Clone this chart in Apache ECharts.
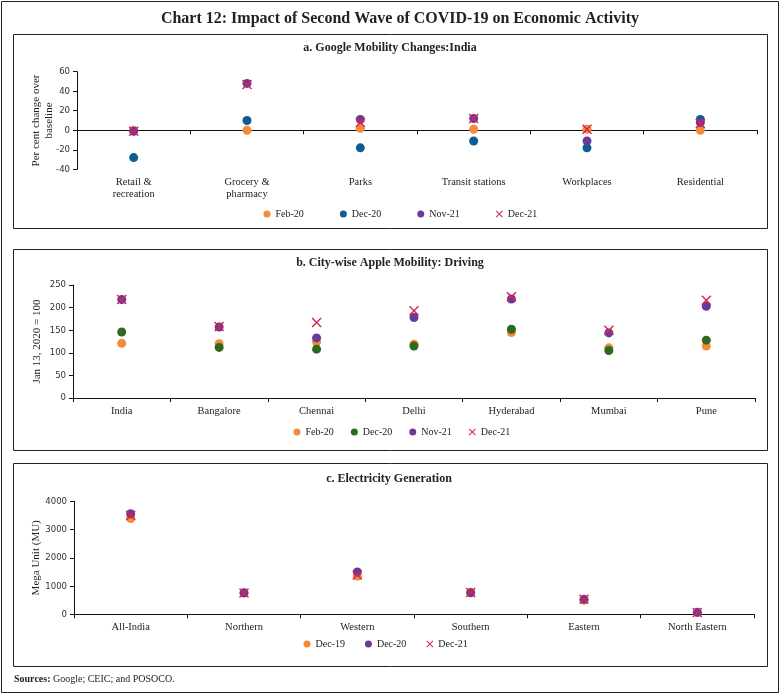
<!DOCTYPE html>
<html>
<head>
<meta charset="utf-8">
<script src="https://cdn.jsdelivr.net/npm/echarts@6/dist/echarts.min.js"></script>
<style>
html,body{margin:0;padding:0;background:#fff;}
#c{width:782px;height:695px;}
</style>
</head>
<body>
<div id="c"></div>
<script>
// Panel a: Google mobility
const catsA = ['Retail &\nrecreation', 'Grocery &\npharmacy', 'Parks', 'Transit stations', 'Workplaces', 'Residential'];
const aFeb20 = [0, 0, 2, 1, 1, 0];
const aDec20 = [-28, 10, -18, -11, -18, 11];
const aNov21 = [-1, 48, 11, 12, -11, 8];
const aDec21 = [-1, 47, 8, 12, 1, 7];
const ticksA = [-40, 60, 20];

// Panel b: Apple driving
const catsB = ['India', 'Bangalore', 'Chennai', 'Delhi', 'Hyderabad', 'Mumbai', 'Pune'];
const bFeb20 = [121, 120, 124, 119, 145, 111, 115];
const bDec20 = [146, 112, 108, 115, 152, 105, 128];
const bNov21 = [218, 157, 133, 178, 219, 144, 203];
const bDec21 = [218, 158, 167, 193, 224, 150, 216];
const ticksB = [0, 250, 50];

// Panel c: Electricity generation
const catsC = ['All-India', 'Northern', 'Western', 'Southern', 'Eastern', 'North Eastern'];
const cDec19 = [3390, 750, 1350, 780, 500, 60];
const cDec20 = [3560, 760, 1500, 760, 530, 70];
const cDec21 = [3500, 750, 1390, 770, 535, 65];
const ticksC = [0, 4000, 1000];

const ORANGE = '#F58A3A', BLUE = '#0E5C92', GREEN = '#2E6A1E', PURPLE = '#6A3A98', RED = '#D8234F';
const XSYM = 'path://M0,1L1,0L5,4L9,0L10,1L6,5L10,9L9,10L5,6L1,10L0,9L4,5Z';
const SERIF = '"Liberation Serif", "Times New Roman", serif';
const SANS = '"DejaVu Sans Condensed", "Liberation Sans", sans-serif';

const chart = echarts.init(document.getElementById('c'), null, {renderer: 'canvas'});

function xAx(cats, gi, margin) {
  return {
    type: 'category', gridIndex: gi, data: cats,
    axisLine: {show: true, lineStyle: {color: '#111', width: 1}},
    axisTick: {show: true, length: 4, lineStyle: {color: '#111'}},
    axisLabel: {color: '#222', fontFamily: SERIF, fontSize: 10.5, lineHeight: 12, margin: margin, interval: 0},
    splitLine: {show: false}
  };
}
function yAx(t, gi, name, gap) {
  return {
    type: 'value', gridIndex: gi, min: t[0], max: t[1], interval: t[2],
    name: name, nameLocation: 'middle', nameGap: gap, nameRotate: 90, nameMoveOverlap: false,
    nameTextStyle: {color: '#222', fontFamily: SERIF, fontSize: 11, lineHeight: 13},
    axisLine: {show: true, lineStyle: {color: '#111', width: 1}},
    axisTick: {show: true, length: 4, lineStyle: {color: '#111'}},
    axisLabel: {color: '#333', fontFamily: SANS, fontSize: 9.5, margin: 7, formatter: v => String(v)},
    splitLine: {show: false}
  };
}
function sc(name, data, gi, color, isX) {
  return {
    type: 'scatter', name: name, data: data, xAxisIndex: gi, yAxisIndex: gi,
    symbol: isX ? XSYM : 'circle', symbolSize: isX ? 10 : 9,
    itemStyle: {color: color, opacity: 1},
    emphasis: {disabled: true}
  };
}
function leg(names, left, top, gap) {
  return {
    data: names.map(n => ({name: n})), left: left, top: top, itemGap: gap,
    itemWidth: 7, itemHeight: 7, orient: 'horizontal', selectedMode: false,
    formatter: n => n.split('|')[1],
    textStyle: {color: '#222', fontFamily: SERIF, fontSize: 10},
    padding: 0
  };
}

const option = {
  animation: false,
  backgroundColor: '#fff',
  grid: [
    {left: 77, right: 25, top: 71.7, height: 97.6},
    {left: 73, right: 27, top: 285, height: 113},
    {left: 74, right: 28, top: 501.3, height: 113}
  ],
  xAxis: [xAx(catsA, 0, 7), xAx(catsB, 1, 7), xAx(catsC, 2, 6.5)],
  yAxis: [
    yAx(ticksA, 0, 'Per cent change over\nbaseline', 21),
    yAx(ticksB, 1, 'Jan 13, 2020 = 100', 29),
    yAx(ticksC, 2, 'Mega Unit (MU)', 31)
  ],
  legend: [
    leg(['a|Feb-20', 'a|Dec-20', 'a|Nov-21', 'a|Dec-21'], 263.5, 209, 36),
    leg(['b|Feb-20', 'b|Dec-20', 'b|Nov-21', 'b|Dec-21'], 293.5, 427, 17),
    leg(['c|Dec-19', 'c|Dec-20', 'c|Dec-21'], 303.5, 639, 20)
  ],
  series: [
    sc('a|Feb-20', aFeb20, 0, ORANGE), sc('a|Dec-20', aDec20, 0, BLUE),
    sc('a|Nov-21', aNov21, 0, PURPLE), sc('a|Dec-21', aDec21, 0, RED, true),
    sc('b|Feb-20', bFeb20, 1, ORANGE), sc('b|Dec-20', bDec20, 1, GREEN),
    sc('b|Nov-21', bNov21, 1, PURPLE), sc('b|Dec-21', bDec21, 1, RED, true),
    sc('c|Dec-19', cDec19, 2, ORANGE), sc('c|Dec-20', cDec20, 2, PURPLE),
    sc('c|Dec-21', cDec21, 2, RED, true)
  ],
  graphic: [
    {type: 'rect', shape: {x: 1.5, y: 1.5, width: 777, height: 691}, style: {fill: 'none', stroke: '#222', lineWidth: 1}, silent: true},
    {type: 'rect', shape: {x: 13.5, y: 34.5, width: 754, height: 194}, style: {fill: 'none', stroke: '#222', lineWidth: 1}, silent: true},
    {type: 'rect', shape: {x: 13.5, y: 249.5, width: 754, height: 201}, style: {fill: 'none', stroke: '#222', lineWidth: 1}, silent: true},
    {type: 'rect', shape: {x: 13.5, y: 463.5, width: 754, height: 203}, style: {fill: 'none', stroke: '#222', lineWidth: 1}, silent: true},
    {type: 'text', x: 400, y: 19, style: {text: 'Chart 12: Impact of Second Wave of COVID-19 on Economic Activity', font: 'bold 16px ' + SERIF, fill: '#222', align: 'center', verticalAlign: 'middle'}},
    {type: 'text', x: 390, y: 48, style: {text: 'a. Google Mobility Changes:India', font: 'bold 12px ' + SERIF, fill: '#222', align: 'center', verticalAlign: 'middle'}},
    {type: 'text', x: 390, y: 263, style: {text: 'b. City-wise Apple Mobility: Driving', font: 'bold 12px ' + SERIF, fill: '#222', align: 'center', verticalAlign: 'middle'}},
    {type: 'text', x: 389, y: 479, style: {text: 'c. Electricity Generation', font: 'bold 12px ' + SERIF, fill: '#222', align: 'center', verticalAlign: 'middle'}},
    {type: 'text', x: 14, y: 679, style: {
      text: '{b|Sources:} Google; CEIC; and POSOCO.',
      rich: {b: {font: 'bold 10px ' + SERIF, fill: '#222'}},
      font: '10px ' + SERIF, fill: '#222', verticalAlign: 'middle'}}
  ]
};
chart.setOption(option);
</script>
</body>
</html>
